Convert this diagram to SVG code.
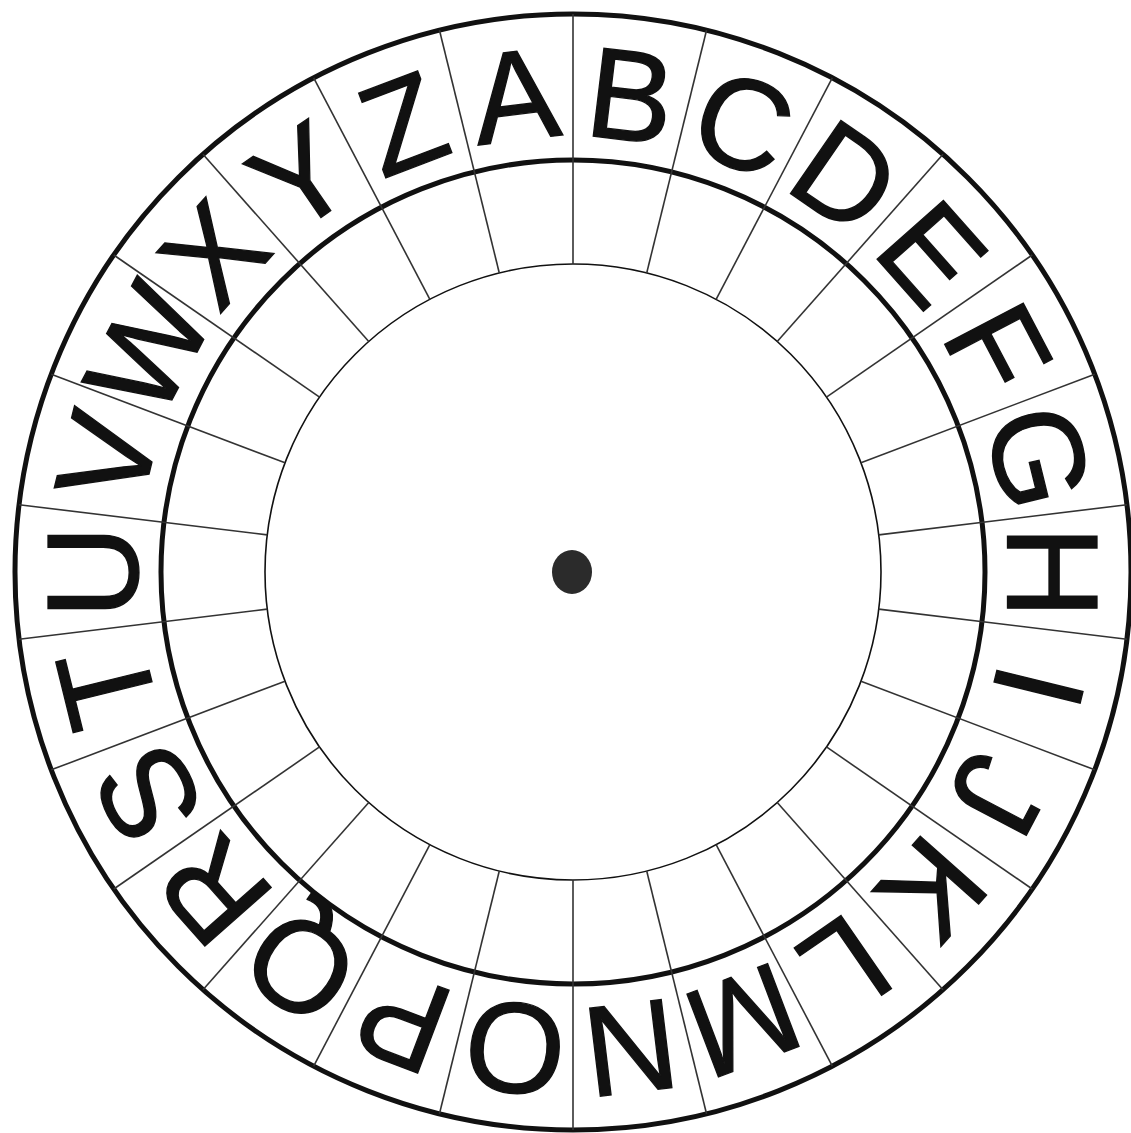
<svg xmlns="http://www.w3.org/2000/svg" width="1131" height="1133" viewBox="0 0 1131 1133">
<style>
.ring{fill:none;stroke:#111;}
.div line{stroke:#333;stroke-width:1.6;}
.lt{font-family:"Liberation Sans",Arial,sans-serif;font-size:129px;fill:#111;stroke:#111;stroke-width:1.3;text-anchor:middle;}
</style>
<rect width="1131" height="1133" fill="#fff"/>
<g id="rings">
<circle class="ring" cx="573" cy="572" r="558" stroke-width="5"/>
<circle class="ring" cx="573" cy="572" r="412" stroke-width="5"/>
<circle class="ring" cx="573" cy="572" r="308" stroke-width="1.6"/>
</g>
<g id="connectors" class="div">
<line x1="573" y1="264" x2="573" y2="14" transform="rotate(0 573 572)"/>
<line x1="573" y1="264" x2="573" y2="14" transform="rotate(13.846 573 572)"/>
<line x1="573" y1="264" x2="573" y2="14" transform="rotate(27.692 573 572)"/>
<line x1="573" y1="264" x2="573" y2="14" transform="rotate(41.538 573 572)"/>
<line x1="573" y1="264" x2="573" y2="14" transform="rotate(55.385 573 572)"/>
<line x1="573" y1="264" x2="573" y2="14" transform="rotate(69.231 573 572)"/>
<line x1="573" y1="264" x2="573" y2="14" transform="rotate(83.077 573 572)"/>
<line x1="573" y1="264" x2="573" y2="14" transform="rotate(96.923 573 572)"/>
<line x1="573" y1="264" x2="573" y2="14" transform="rotate(110.769 573 572)"/>
<line x1="573" y1="264" x2="573" y2="14" transform="rotate(124.615 573 572)"/>
<line x1="573" y1="264" x2="573" y2="14" transform="rotate(138.462 573 572)"/>
<line x1="573" y1="264" x2="573" y2="14" transform="rotate(152.308 573 572)"/>
<line x1="573" y1="264" x2="573" y2="14" transform="rotate(166.154 573 572)"/>
<line x1="573" y1="264" x2="573" y2="14" transform="rotate(180 573 572)"/>
<line x1="573" y1="264" x2="573" y2="14" transform="rotate(193.846 573 572)"/>
<line x1="573" y1="264" x2="573" y2="14" transform="rotate(207.692 573 572)"/>
<line x1="573" y1="264" x2="573" y2="14" transform="rotate(221.538 573 572)"/>
<line x1="573" y1="264" x2="573" y2="14" transform="rotate(235.385 573 572)"/>
<line x1="573" y1="264" x2="573" y2="14" transform="rotate(249.231 573 572)"/>
<line x1="573" y1="264" x2="573" y2="14" transform="rotate(263.077 573 572)"/>
<line x1="573" y1="264" x2="573" y2="14" transform="rotate(276.923 573 572)"/>
<line x1="573" y1="264" x2="573" y2="14" transform="rotate(290.769 573 572)"/>
<line x1="573" y1="264" x2="573" y2="14" transform="rotate(304.615 573 572)"/>
<line x1="573" y1="264" x2="573" y2="14" transform="rotate(318.462 573 572)"/>
<line x1="573" y1="264" x2="573" y2="14" transform="rotate(332.308 573 572)"/>
<line x1="573" y1="264" x2="573" y2="14" transform="rotate(346.154 573 572)"/>
</g>
<g id="letters">
<g id="A"><text class="lt" x="573" y="137" transform="rotate(-6.923 573 572)">A</text></g>
<g id="B"><text class="lt" x="573" y="137" transform="rotate(6.923 573 572)">B</text></g>
<g id="C"><text class="lt" x="573" y="137" transform="rotate(20.769 573 572)">C</text></g>
<g id="D"><text class="lt" x="573" y="137" transform="rotate(34.615 573 572)">D</text></g>
<g id="E"><text class="lt" x="573" y="137" transform="rotate(48.462 573 572)">E</text></g>
<g id="F"><text class="lt" x="573" y="137" transform="rotate(62.308 573 572)">F</text></g>
<g id="G"><text class="lt" x="573" y="137" transform="rotate(76.154 573 572)">G</text></g>
<g id="H"><text class="lt" x="573" y="137" transform="rotate(90 573 572)">H</text></g>
<g id="I"><text class="lt" x="573" y="137" transform="rotate(103.846 573 572)">I</text></g>
<g id="J"><text class="lt" x="573" y="137" transform="rotate(117.692 573 572)">J</text></g>
<g id="K"><text class="lt" x="573" y="137" transform="rotate(131.538 573 572)">K</text></g>
<g id="L"><text class="lt" x="573" y="137" transform="rotate(145.385 573 572)">L</text></g>
<g id="M"><text class="lt" x="573" y="137" transform="rotate(159.231 573 572)">M</text></g>
<g id="N"><text class="lt" x="573" y="137" transform="rotate(173.077 573 572)">N</text></g>
<g id="O"><text class="lt" x="573" y="137" transform="rotate(186.923 573 572)">O</text></g>
<g id="P"><text class="lt" x="573" y="137" transform="rotate(200.769 573 572)">P</text></g>
<g id="Q"><text class="lt" x="573" y="137" transform="rotate(214.615 573 572)">Q</text></g>
<g id="R"><text class="lt" x="573" y="137" transform="rotate(228.462 573 572)">R</text></g>
<g id="S"><text class="lt" x="573" y="137" transform="rotate(242.308 573 572)">S</text></g>
<g id="T"><text class="lt" x="573" y="137" transform="rotate(256.154 573 572)">T</text></g>
<g id="U"><text class="lt" x="573" y="137" transform="rotate(270 573 572)">U</text></g>
<g id="V"><text class="lt" x="573" y="137" transform="rotate(283.846 573 572)">V</text></g>
<g id="W"><text class="lt" x="573" y="137" transform="rotate(297.692 573 572)">W</text></g>
<g id="X"><text class="lt" x="573" y="137" transform="rotate(311.538 573 572)">X</text></g>
<g id="Y"><text class="lt" x="573" y="137" transform="rotate(325.385 573 572)">Y</text></g>
<g id="Z"><text class="lt" x="573" y="137" transform="rotate(339.231 573 572)">Z</text></g>
</g>
<g id="center"><ellipse cx="572" cy="572" rx="20" ry="22" fill="#2b2b2b"/></g>
</svg>
